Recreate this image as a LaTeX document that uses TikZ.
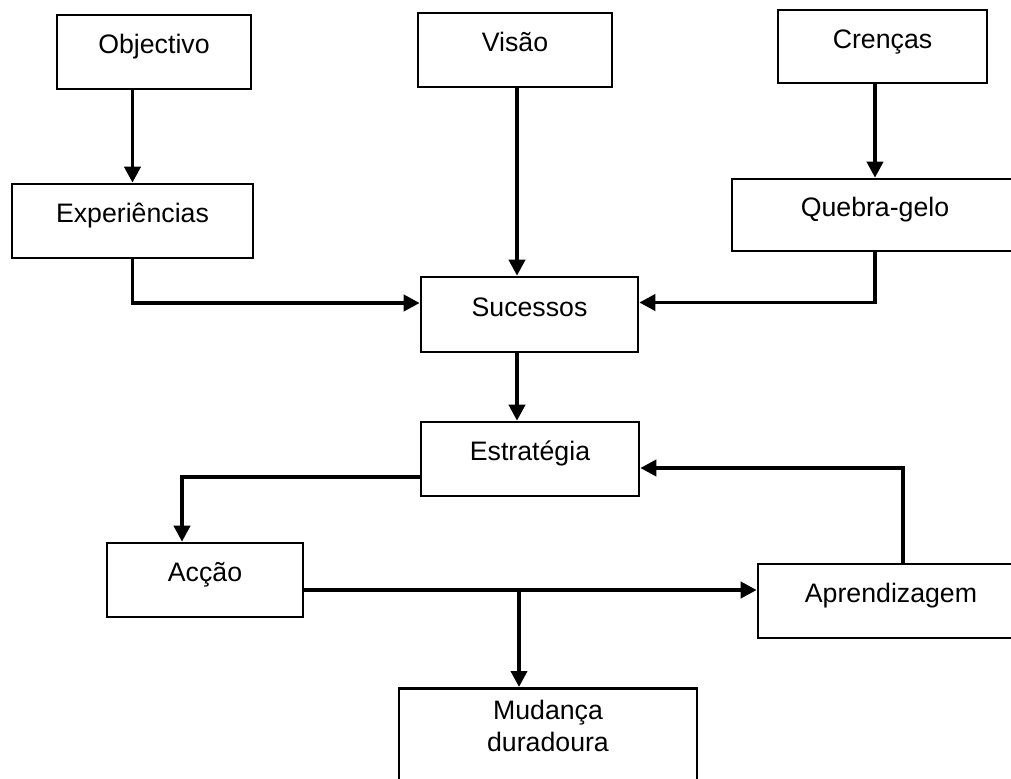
\documentclass[tikz,border=0pt]{standalone}
\usepackage{fontspec}
\setmainfont{Liberation Sans}
\usetikzlibrary{arrows.meta}
\begin{document}
\begin{tikzpicture}[x=0.5pt,y=-0.5pt,
  box/.style={draw, line width=1.3pt, inner sep=0pt, minimum height=37pt,
    text height=9.5pt, text depth=8pt, font=\fontsize{13.35}{16}\selectfont},
  lbl/.style={inner sep=0pt, font=\fontsize{13.35}{16}\selectfont},
  arr/.style={line width=1.9pt, -{Triangle[length=8pt,width=8pt]}}]
\useasboundingbox (0,0) rectangle (1011,778);
\clip (0,0) rectangle (1011,778);
\fill[white] (0,0) rectangle (1011,778);

% top row
\node[box, minimum width=97pt] (obj) at (154,52) {Objectivo};
\node[box, minimum width=97pt] (vis) at (515,50) {Visão};
\node[box, minimum width=104.5pt, minimum height=36.5pt] (cre) at (882.5,46.5) {Crenças};
% second row
\node[box, minimum width=120.5pt] (exp) at (132.5,221) {Experiências};
\node[box, minimum width=143pt, minimum height=36pt] (que) at (875,215) {Quebra-gelo};
% centre column
\node[box, minimum width=108.5pt, minimum height=37.5pt] (suc) at (529.5,314.5) {Sucessos};
\node[box, minimum width=109pt] (est) at (530,459) {Estratégia};
% lower row
\node[box, minimum width=98pt] (acc) at (205,580) {Acção};
\node[box, minimum width=133pt] (apr) at (891,601) {Aprendizagem};
\node[box, minimum width=149pt, minimum height=61.5pt, anchor=north] (mud) at (548,687) {};
\node[lbl, align=center, anchor=north] (mudtxt) at (548,700) {Mudança\\duradoura};

% vertical spines
\coordinate (sp) at (517,0);
\coordinate (md) at (519,0);

% connectors
\draw[arr] (obj.south -| exp.north) -- (exp.north);
\draw[arr] (vis.south -| sp) -- (sp |- suc.north);
\draw[arr] (cre.south -| que.north) -- (que.north);
\draw[arr] (exp.south) |- ([yshift=5.75pt]suc.west);
\draw[arr] (que.south) |- ([yshift=6pt]suc.east);
\draw[arr] (sp |- suc.south) -- (sp |- est.north);
\draw[arr] ([yshift=-9pt]est.west) -| ([xshift=-11.5pt]acc.north);
\coordinate (ae) at ([yshift=-5pt]acc.east);
\draw[arr] (ae) -- (ae -| apr.west);
\draw[arr] (ae -| md) -- (md |- mud.north);
\draw[arr] ([xshift=6pt]apr.north) |- ([yshift=-4.5pt]est.east);
\end{tikzpicture}
\end{document}
